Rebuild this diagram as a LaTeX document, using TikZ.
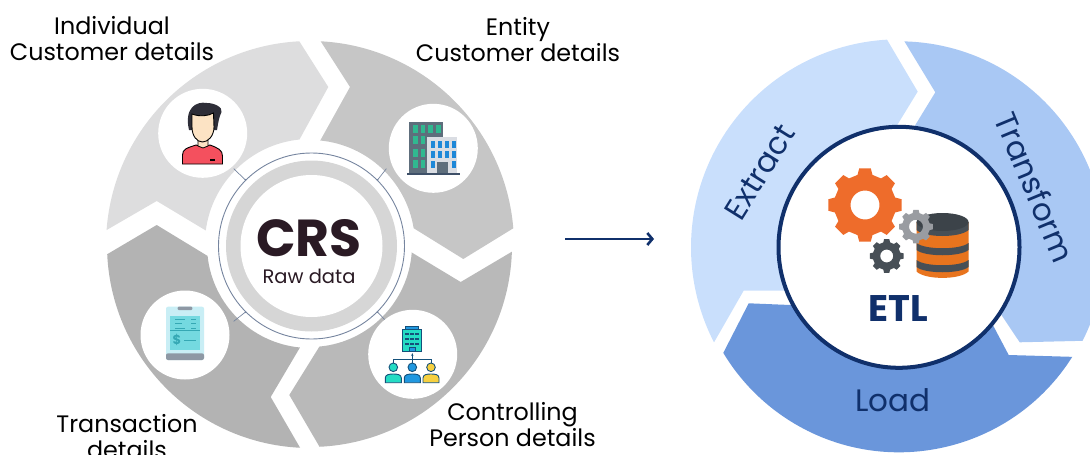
\documentclass[tikz,border=0pt]{standalone}
\usepackage{fontspec}
\setmainfont{Poppins}
\usepackage{tikz}
\usetikzlibrary{arrows.meta}

\definecolor{segone}{HTML}{DDDDDE}
\definecolor{segtwo}{HTML}{C6C6C6}
\definecolor{segthree}{HTML}{B9B9B9}
\definecolor{segfour}{HTML}{B3B3B3}
\definecolor{ringgrey}{HTML}{D6D6D6}
\definecolor{ringline}{HTML}{76859F}
\definecolor{crsink}{HTML}{2A1A24}
\definecolor{etlnavy}{HTML}{10306B}
\definecolor{extractblue}{HTML}{C9DFFC}
\definecolor{transformblue}{HTML}{A9C8F4}
\definecolor{loadblue}{HTML}{6A96DB}
\definecolor{gearorange}{HTML}{EE6C2B}
\definecolor{geargrey}{HTML}{999CA1}
\definecolor{geardark}{HTML}{474F56}
\definecolor{dborange}{HTML}{E8741E}
\definecolor{hairdark}{HTML}{2E2E38}
\definecolor{shirtred}{HTML}{F4505E}
\definecolor{skintone}{HTML}{FCE3C4}
\definecolor{towerdark}{HTML}{5E6E7C}
\definecolor{towergreen}{HTML}{30B890}
\definecolor{towerlight}{HTML}{DADDE3}
\definecolor{towerblue}{HTML}{1E88D8}
\definecolor{towerbase}{HTML}{3E5068}
\definecolor{padlight}{HTML}{C9EEF5}
\definecolor{padscreen}{HTML}{74D9E0}
\definecolor{padline}{HTML}{35A8B4}
\definecolor{padgrey}{HTML}{8E98A4}
\definecolor{orgline}{HTML}{14507A}
\definecolor{orgteal}{HTML}{24DCC4}
\definecolor{orgblue}{HTML}{2098E0}
\definecolor{orgyellow}{HTML}{F6D040}

\tikzset{
  iconbg/.style={circle,fill=white,minimum size=89pt,inner sep=0pt},
  label/.style={align=center,inner sep=0pt,font=\fontsize{23.8}{26}\selectfont},
  ticks/.style={draw=ringline,line width=0.7pt},
  stage/.style={inner sep=0pt,text=etlnavy,font=\fontsize{31}{32}\selectfont},
  orgline/.style={draw=orgline,line width=0.9pt}
}

\newcommand{\gearicon}[6]{%
  \fill[#6,even odd rule,shift={(#1,#2)}] (-14:#4pt)
    foreach \toothangle in {0,45,...,315} {
      -- (\toothangle-14:#4pt) -- (\toothangle-9:#3pt)
      -- (\toothangle+9:#3pt) -- (\toothangle+14:#4pt)}
    -- cycle (0,0) circle[radius=#5pt];}

\begin{document}
\begin{tikzpicture}[x=1pt,y=-1pt]
\clip (0,0) rectangle (1090,455);

\begin{scope}[shift={(310,245)}]
\fill[segone] (175.8:204pt) arc[start angle=175.8,end angle=93,radius=204pt]
  -- (18.3,-158) -- (95.7:106pt) arc[start angle=95.7,end angle=172.6,radius=105pt]
  -- (-153.3,-44) -- cycle;
\fill[segtwo] (87:204pt) arc[start angle=87,end angle=4.7,radius=204pt]
  -- (153.3,14) -- (9.2:105pt) arc[start angle=9.2,end angle=84.4,radius=105pt]
  -- (40,-158) -- cycle;
\fill[segthree] (-1.9:202pt) arc[start angle=-1.9,end angle=-87.3,radius=202pt]
  -- (-20.7,150) -- (-84.7:102pt) arc[start angle=-84.7,end angle=-4.2,radius=102pt]
  -- (150.7,37) -- cycle;
\fill[segfour] (-92.8:203pt) arc[start angle=-92.8,end angle=-177.4,radius=203pt]
  -- (-153.3,-20) -- (186.1:103pt) arc[start angle=186.1,end angle=264.4,radius=103pt]
  -- (-39.3,152) -- cycle;
\coordinate (tickNW) at (135:108pt);
\coordinate (tickNE) at (45:108pt);
\coordinate (tickSW) at (225:108pt);
\coordinate (tickSE) at (-45:108pt);
\end{scope}

\node[circle,draw=ringline,line width=0.9pt,minimum size=186pt,inner sep=0pt] (crsring) at (311.5,246) {};
\node[circle,fill=ringgrey,minimum size=171pt,inner sep=0pt] (crsband) at (311.5,246) {};
\node[circle,fill=white,minimum size=142pt,inner sep=0pt] (crscore) at (311.5,246) {};
\foreach \tickname/\tickangle in {tickNW/135,tickNE/45,tickSW/225,tickSE/315}{
  \draw[ticks] (crsring.\tickangle) -- (\tickname);
  \fill[ringline] (crsring.\tickangle) circle[radius=1pt];
}

\node[font=\fontsize{52}{52}\selectfont\bfseries,text=crsink,inner sep=0pt] (crstitle) at (309,238) {CRS};
\node[font=\fontsize{19.5}{20}\selectfont,text=crsink,inner sep=0pt] (rawdata) at (309,276) {Raw data};

\node[iconbg] (personbg) at (202.7,133.3) {};
\node[iconbg] (towerbg) at (433.3,148.3) {};
\node[iconbg] (padbg) at (185,335) {};
\node[iconbg] (orgbg) at (412.7,354.3) {};

\node[label] (individual) at (112,39) {Individual\\Customer details};
\node[label] (entity) at (518,40) {Entity\\Customer details};
\node[label] (controlling) at (512.5,425) {Controlling\\Person details};
\node[label] (transaction) at (127,437) {Transaction\\details};

\fill[shirtred,draw=black,line width=0.9pt] (182.5,164) -- (182.5,155) .. controls (182.5,149) and (187,148) .. (196,145)
  -- (203,147) -- (210,145) .. controls (218,148) and (222.5,150) .. (222.5,156) -- (222.5,164) -- cycle;
\fill[skintone,draw=black,line width=0.8pt] (198,140) -- (198,146) -- (203,148) -- (208,146) -- (208,140) -- cycle;
\fill[hairdark] (189,130) .. controls (184,108) and (196,101) .. (207,103)
  .. controls (214,103) and (223,107) .. (221.5,112) .. controls (219,117) and (218,124) .. (217,130) -- cycle;
\fill[skintone,draw=black,line width=0.9pt] (192,114) .. controls (200,117) and (208,116) .. (213.5,113)
  -- (214,127) .. controls (214,136) and (208,142) .. (202.5,142) .. controls (197,142) and (192,136) .. (192,127) -- cycle;
\fill[black] (210,159) rectangle (214.5,161);

\fill[towerdark] (409.3,121.7) rectangle (443.3,173.3);
\foreach \winx in {413,420.5,428,436}{
  \fill[towergreen] (\winx,125) rectangle ++(4.5,8);
}
\foreach \winy in {136,149,160}{
  \foreach \winx in {413,420.5}{
    \fill[towergreen] (\winx,\winy) rectangle ++(4.5,8);
  }
}
\fill[towerlight] (427.3,137.3) rectangle (457.3,173.3);
\foreach \winy in {140.5,150.5,160.5}{
  \foreach \winx in {431,437.5,445,451.5}{
    \fill[towerblue] (\winx,\winy) rectangle ++(4,7);
  }
}
\fill[towerlight] (435.5,160) rectangle (449.5,173);
\fill[towerdark] (436.7,161.7) rectangle (448.3,173.3);
\fill[towerbase] (407.3,172.7) rectangle (460,175.3);

\fill[padlight,rounded corners=2pt] (166,306.7) rectangle (204,360);
\fill[padgrey,rounded corners=2pt] (166,353.3) rectangle (204,360);
\fill[padgrey,rounded corners=1pt] (177.7,306.7) rectangle (192.3,310);
\fill[padscreen] (170,315.7) rectangle (200,350);
\foreach \liney/\lineend in {319/185,323.5/182,328/185}{
  \draw[padline,line width=0.8pt] (175,\liney) -- (\lineend,\liney);
  \draw[padline,line width=0.8pt] (191,\liney) -- (196,\liney);
}
\draw[padline,line width=0.8pt] (170,330.5) -- (200,330.5);
\draw[padline,line width=0.8pt] (184,340) -- (196,340);
\node[text=padline,inner sep=0pt,font=\fontsize{13}{13}\selectfont\bfseries] (dollar) at (177,339.5) {\$};

\fill[orgteal,draw=orgline,line width=0.9pt] (402.7,329.5) rectangle (421.7,351.7);
\fill[orgblue,draw=orgline,line width=0.7pt] (405.7,326) rectangle (418.7,329.5);
\foreach \winy in {333,338,343}{
  \foreach \winx in {405.5,410.5,415.5}{
    \fill[orgline] (\winx,\winy) rectangle ++(3,1.2);
  }
}
\fill[orgblue,draw=orgline,line width=0.6pt] (409,347) rectangle (415.5,351.7);
\coordinate (orgjoin) at (412.3,359.3);
\coordinate (orgtop) at (412.3,353);
\coordinate (orgleft) at (393.3,359.3);
\coordinate (orgright) at (431,359.3);
\draw[orgline,-{Stealth[length=3pt]}] (orgjoin) -- (orgtop);
\draw[orgline] (orgleft) -- (orgright);
\foreach \orgx/\orgcolor in {393.3/orgteal,412.3/orgblue,431/orgyellow}{
  \draw[orgline] (\orgx,359.3) -- (\orgx,363);
  \fill[\orgcolor,draw=orgline,line width=0.9pt] (\orgx,367.3) circle[radius=4.3pt];
  \fill[\orgcolor,draw=orgline,line width=0.9pt] (\orgx-8,382.7) -- (\orgx-8,378) .. controls (\orgx-8,374.5) and (\orgx-4,374) .. (\orgx,374)
    .. controls (\orgx+4,374) and (\orgx+8,374.5) .. (\orgx+8,378) -- (\orgx+8,382.7) -- cycle;
}

\coordinate (arrowtail) at (565,239);
\coordinate (arrowhead) at (654,239);
\draw[etlnavy,line width=2.2pt,-{Straight Barb[length=5pt,width=12pt,line width=2.6pt]}] (arrowtail) -- (arrowhead);

\begin{scope}[shift={(899,247.3)}]
\fill[extractblue] (207.2:208pt) arc[start angle=207.2,end angle=93.3,radius=208pt]
  -- (18.7,-155.7) -- (-5,-117) -- (-5,0) -- (-112,43.3) -- (-155.3,43.3) -- cycle;
\fill[transformblue] (88.5:206pt) arc[start angle=88.5,end angle=-27,radius=206pt]
  -- (120.7,95) -- (101.3,66) -- (0,0) -- (16.3,-122.3) -- (36.3,-155) -- cycle;
\fill[loadblue] (-32.3:205pt) arc[start angle=-32.3,end angle=-149,radius=205pt]
  -- (-150.3,56) -- (-108.7,57.7) -- (0,0) -- (94.7,79.3) -- (109.7,107.7) -- cycle;
\end{scope}

\node[circle,draw=etlnavy,fill=white,line width=4pt,minimum size=241pt,inner sep=0pt] (etlcore) at (899,247.3) {};
\node[stage,rotate=58] (extract) at (760,172) {Extract};
\node[stage,rotate=-67.5] (transform) at (1035,187) {Transform};
\node[stage] (load) at (893,400) {Load};
\node[font=\fontsize{37}{37}\selectfont\bfseries,text=etlnavy,inner sep=0pt] (etl) at (898,309) {ETL};

\fill[dborange] (916.5,222) -- (916.5,271.5) .. controls (925,280) and (960,280) .. (968.5,271.5) -- (968.5,222) -- cycle;
\fill[geardark] (916.5,222) -- (916.5,230) .. controls (925,238) and (960,238) .. (968.5,230) -- (968.5,222) -- cycle;
\fill[geardark!85!black] (942.5,222) ellipse[x radius=26pt,y radius=9pt];
\foreach \bandy in {243,260}{
  \fill[geardark] (916.5,\bandy) .. controls (925,\bandy+7) and (960,\bandy+7) .. (968.5,\bandy)
    -- (968.5,\bandy+7) .. controls (960,\bandy+14) and (925,\bandy+14) .. (916.5,\bandy+7) -- cycle;
}

\gearicon{865}{205}{37}{31}{14.5}{gearorange}
\gearicon{916}{226.7}{17}{14}{7}{geargrey}
\gearicon{886.7}{256}{17}{14}{6.5}{geardark}
\end{tikzpicture}
\end{document}
